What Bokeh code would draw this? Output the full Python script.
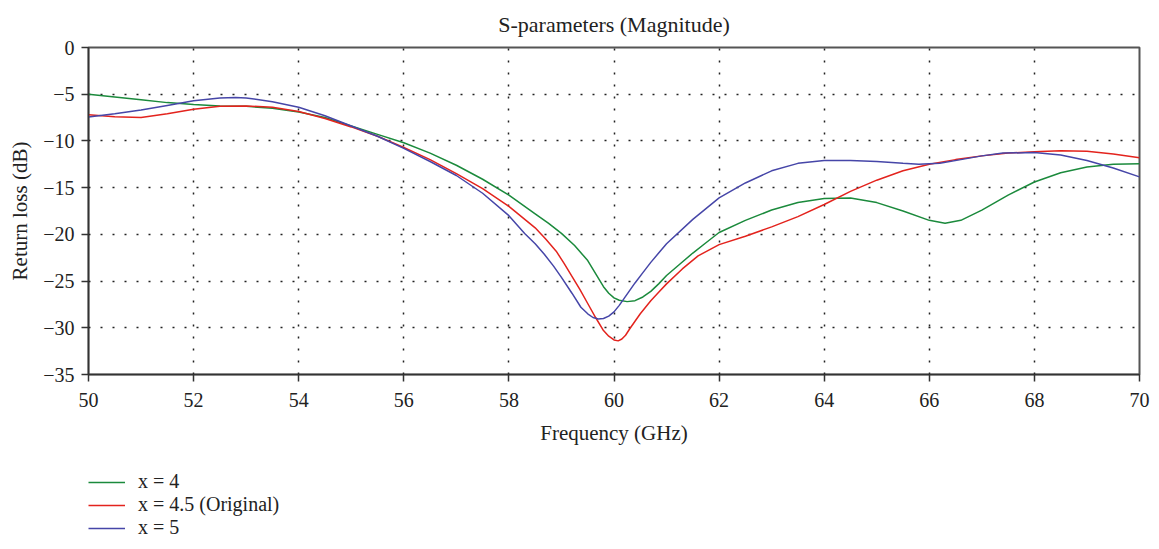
from bokeh.plotting import figure
from bokeh.layouts import column
from bokeh.models import Legend, LegendItem, Range1d, FixedTicker
from bokeh.embed import file_html
from bokeh.resources import INLINE

freq_x4 = [50, 50.5, 51, 51.5, 52, 52.5, 53, 53.5, 54, 54.5, 55, 55.5, 56, 56.5, 57, 57.5, 58, 58.5, 58.75, 59,
           59.25, 59.5, 59.65, 59.8, 59.9, 60.0, 60.1, 60.25, 60.4, 60.55, 60.7, 60.85, 61, 61.25, 61.5, 61.75,
           62, 62.5, 63, 63.5, 64, 64.5, 65, 65.5, 66, 66.3, 66.6, 67, 67.5, 68, 68.5, 69, 69.5, 70]
rl_x4 = [-5.0, -5.3, -5.6, -5.9, -6.1, -6.25, -6.3, -6.5, -6.9, -7.5, -8.4, -9.3, -10.2, -11.3, -12.6, -14.1,
         -15.8, -17.8, -18.8, -19.9, -21.2, -22.8, -24.2, -25.6, -26.3, -26.8, -27.05, -27.2, -27.1, -26.7,
         -26.1, -25.3, -24.4, -23.2, -22.0, -20.9, -19.8, -18.5, -17.4, -16.6, -16.15, -16.1, -16.6, -17.5,
         -18.5, -18.8, -18.5, -17.4, -15.8, -14.4, -13.4, -12.8, -12.5, -12.45]

freq_x45 = [50, 50.5, 51, 51.5, 52, 52.5, 53, 53.5, 54, 54.5, 55, 55.5, 56, 56.5, 57, 57.5, 58, 58.5, 58.7, 58.9,
            59.05, 59.2, 59.35, 59.5, 59.65, 59.8, 59.9, 60.0, 60.08, 60.15, 60.22, 60.3, 60.4, 60.5, 60.6, 60.7,
            60.85, 61, 61.3, 61.6, 62, 62.5, 63, 63.5, 64, 64.5, 65, 65.5, 66, 66.5, 67, 67.5, 68, 68.5, 69, 69.5,
            70]
rl_x45 = [-7.2, -7.4, -7.5, -7.1, -6.6, -6.3, -6.25, -6.4, -6.85, -7.6, -8.5, -9.5, -10.7, -12.0, -13.5, -15.1,
          -17.0, -19.3, -20.5, -21.8, -23.1, -24.5, -25.9, -27.4, -28.9, -30.3, -30.9, -31.3, -31.4, -31.2, -30.8,
          -30.1, -29.3, -28.5, -27.8, -27.1, -26.2, -25.3, -23.7, -22.3, -21.1, -20.2, -19.2, -18.1, -16.8,
          -15.4, -14.2, -13.2, -12.5, -12.0, -11.6, -11.3, -11.15, -11.05, -11.1, -11.4, -11.8]

freq_x5 = [50, 50.5, 51, 51.5, 52, 52.5, 52.8, 53, 53.5, 54, 54.5, 55, 55.5, 56, 56.5, 57, 57.5, 58, 58.3, 58.5,
           58.67, 58.85, 59, 59.2, 59.37, 59.5, 59.6, 59.7, 59.8, 59.9, 60.0, 60.1, 60.2, 60.3, 60.4, 60.55, 60.7,
           60.85, 61, 61.5, 62, 62.5, 63, 63.5, 64, 64.5, 65, 65.5, 65.8, 66.2, 66.6, 67, 67.4, 68, 68.5, 69,
           69.5, 70]
rl_x5 = [-7.45, -7.1, -6.7, -6.2, -5.7, -5.4, -5.35, -5.4, -5.8, -6.4, -7.3, -8.4, -9.5, -10.8, -12.2, -13.7,
         -15.6, -18.0, -19.9, -21.0, -22.1, -23.4, -24.6, -26.3, -27.8, -28.5, -28.9, -29.05, -29.0, -28.75,
         -28.3, -27.6, -26.8, -26.0, -25.2, -24.1, -23.0, -22.0, -21.0, -18.4, -16.1, -14.5, -13.2, -12.4,
         -12.1, -12.1, -12.2, -12.4, -12.5, -12.4, -12.0, -11.6, -11.3, -11.25, -11.5, -12.1, -12.9, -13.85]

x_ticks = [50, 52, 54, 56, 58, 60, 62, 64, 66, 68, 70]
y_ticks = [0, -5, -10, -15, -20, -25, -30, -35]
labels = ["x = 4", "x = 4.5 (Original)", "x = 5"]
colors = ["#1b8a3c", "#e3231d", "#4646a8"]
series = [(freq_x4, rl_x4), (freq_x45, rl_x45), (freq_x5, rl_x5)]

FONT = "Liberation Serif"
FS = "20px"
FS_LAB = "21px"

p = figure(width=1159, height=450, min_border_left=88, min_border_right=20,
           min_border_top=47, min_border_bottom=76,
           output_backend="svg", toolbar_location=None,
           x_range=Range1d(50, 70), y_range=Range1d(-35, 0),
           title="S-parameters (Magnitude)")

p.title.align = "center"
p.title.vertical_align = "top"
p.title.text_font = FONT
p.title.text_font_size = "22px"
p.title.text_font_style = "normal"
p.title.text_color = "#222222"
p.title.standoff = 18

p.outline_line_color = "#555555"
p.outline_line_width = 2

for ax in (p.xaxis[0], p.yaxis[0]):
    ax.axis_line_color = "#333333"
    ax.axis_line_width = 1.5
    ax.major_tick_line_color = "#333333"
    ax.major_tick_line_width = 1.5
    ax.major_tick_out = 7
    ax.major_tick_in = 0
    ax.minor_tick_line_color = None
    ax.major_label_text_font = FONT
    ax.major_label_text_font_size = FS
    ax.major_label_text_color = "#222222"
    ax.axis_label_text_font = FONT
    ax.axis_label_text_font_size = FS_LAB
    ax.axis_label_text_font_style = "normal"
    ax.axis_label_text_color = "#222222"

p.xaxis.ticker = FixedTicker(ticks=x_ticks)
p.yaxis.ticker = FixedTicker(ticks=y_ticks)
p.yaxis.major_label_overrides = {t: ("\u2212" + str(abs(t)) if t < 0 else str(t)) for t in y_ticks}
p.xaxis.axis_label = "Frequency (GHz)"
p.yaxis.axis_label = "Return loss (dB)"
p.xaxis.major_label_standoff = 11
p.yaxis.major_label_standoff = 7
p.xaxis.axis_label_standoff = 11
p.yaxis.axis_label_standoff = 8

for g in (p.xgrid[0], p.ygrid[0]):
    g.grid_line_color = "#222222"
    g.grid_line_width = 1.5
    g.grid_line_dash = "2 10"

for (fx, fy), c in zip(series, colors):
    p.line(fx, fy, line_color=c, line_width=1.5)

# legend strip below the chart (same series, lines hidden, used only for the key)
q = figure(width=1159, height=99, min_border=0, output_backend="svg", toolbar_location=None,
           x_range=Range1d(50, 70), y_range=Range1d(-35, 0), x_axis_type=None, y_axis_type=None)
q.outline_line_color = None
q.xgrid.visible = False
q.ygrid.visible = False
items = []
for (fx, fy), c, lab in zip(series, colors, labels):
    r = q.line(fx, fy, line_color=c, line_width=1.5, visible=False)
    items.append(LegendItem(label=lab, renderers=[r]))

legend = Legend(items=items, location=(0, 10), orientation="vertical",
                glyph_width=37, glyph_height=16, label_height=16, label_standoff=13, spacing=0,
                padding=0, margin=0, border_line_color=None, background_fill_alpha=0,
                inactive_fill_alpha=0,
                label_text_font=FONT, label_text_font_size=FS, label_text_color="#222222")
q.add_layout(legend)

layout = column(p, q, spacing=0)
open("out.html", "w").write(file_html(layout, INLINE))
